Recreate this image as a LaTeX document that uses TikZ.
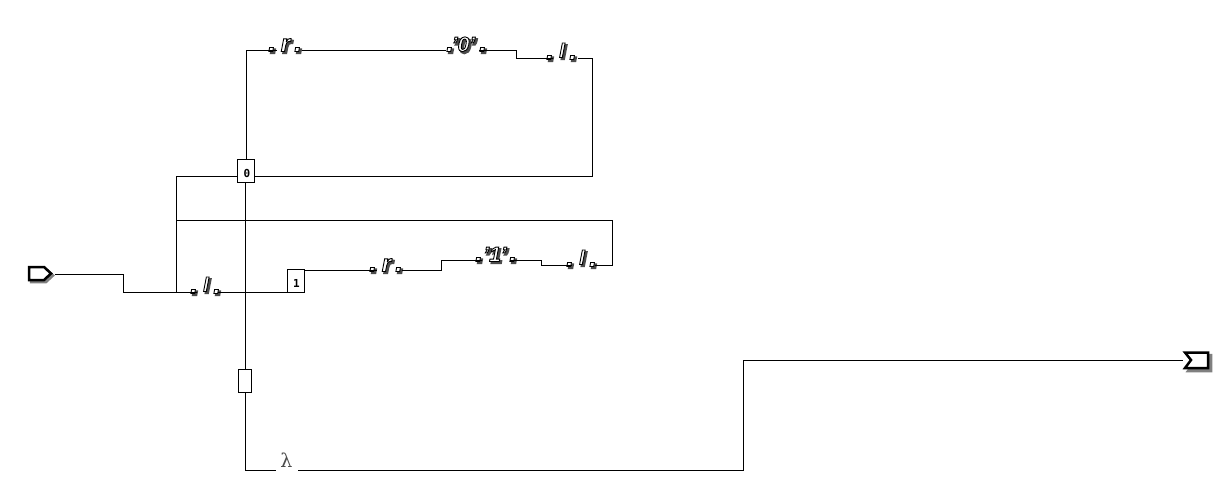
\documentclass[tikz,border=0pt]{standalone}
\usepackage{fontspec}
\setmainfont{Liberation Sans}
\newfontfamily\monob{DejaVu Sans Mono}
\newfontfamily\lamfont{DejaVu Serif}
\usetikzlibrary{calc}
\newcommand\ot[1]{\rlap{\hspace*{1.8pt}\raisebox{-1.8pt}{\special{pdf:code q 2 Tr 1.6 w 0.3 0.3 0.3 RG 0.3 0.3 0.3 rg}#1\special{pdf:code Q}}}%
\special{pdf:code q 2 Tr 0.9 w 0 0 0 RG 1 1 1 rg}#1\special{pdf:code Q}}
\newcommand\place[2]{\rlap{\hspace*{#1pt}\makebox[0pt]{#2}}}
\newcommand\dotf{\fontsize{27}{27}\selectfont}
\newcommand\rf{\fontsize{24}{24}\selectfont}
\newcommand\qf{\fontsize{21}{21}\selectfont}
\newcommand\lf[1]{\raisebox{2pt}{\fontsize{20}{20}\selectfont #1}}
\newcommand\lbl[5]{\makebox[#1pt]{\rlap{\hspace*{\dimexpr 0.5\dimexpr #1pt\relax\relax}\place{#2}{\ot{\dotf.}}\place{#3}{\ot{#5}}\place{#4}{\ot{\dotf.}}}\hfill}}
\tikzset{
  wire/.style={draw=black,line width=1pt},
  lab/.style={inner sep=0pt,outer sep=0pt,font=\fontsize{18}{18}\selectfont\bfseries\itshape,text height=3pt,text depth=0pt,anchor=center},
  box/.style={draw=black,line width=1pt,fill=white,inner sep=0pt,outer sep=0pt,minimum width=#1},
  digit/.style={inner sep=0pt,font=\monob\bfseries\fontsize{11}{11}\selectfont},
  port/.style={draw=black,line width=2.5pt,fill=white,line join=miter},
  portshade/.style={fill=black!50,draw=black!50,line width=2.5pt},
}
\begin{document}
\begin{tikzpicture}[x=1pt,y=-1pt]
\useasboundingbox[fill=white] (0,0) rectangle (1217,480);
\coordinate (inp) at (55,274);
\coordinate (outp) at (1183,360);
\node[box=17pt,minimum height=23pt] (b0) at (245.5,170.5) {};
\node[digit,yshift=-3pt,xshift=1.5pt] (d0) at (b0) {0};
\node[box=17pt,minimum height=23pt] (b1) at (296,280.5) {};
\node[digit,yshift=-3pt,xshift=0.5pt] (d1) at (b1) {1};
\node[box=13pt,minimum height=23pt] (b2) at (245,380.5) {};
\node[lab] (r1) at (289.5,50) {\lbl{25}{-17.5}{-4}{8.5}{\rf r}};
\node[lab] (q0) at (462.5,50) {\lbl{33}{-12.5}{1}{20.5}{\qf '0'}};
\node[lab] (e1) at (565.5,58) {\lbl{25}{-15.5}{-3.5}{7.5}{\lf{l}}};
\node[lab] (e0) at (207.5,292) {\lbl{21}{-13.5}{-1.5}{9.5}{\lf{l}}};
\node[lab] (r2) at (389.5,270) {\lbl{25}{-16.5}{-3}{9.5}{\rf r}};
\node[lab] (q1) at (496,260) {\lbl{28}{-17}{-1}{17}{\qf '1'}};
\node[lab] (e2) at (583.5,265) {\lbl{23}{-13.5}{-1.5}{9.5}{\lf{l}}};
\node[inner sep=0pt,minimum width=22pt,minimum height=22pt] (lam) at (287,470) {};
\node[inner sep=0pt,text=black!70,font=\lamfont\fontsize{19}{19}\selectfont] (lamt) at (286.5,460) {λ};
\draw[wire] (inp) -- (123.5,274) -- (123.5,292) -- (e0.west);
\draw[wire] (e0.east) -- (b1.south west);
\draw[wire] (176,292) -- (176,176) -- (b0.west |- 176,176);
\draw[wire] (b0.east |- 176,176) -- (592,176) -- (592,58) -- (e1.east);
\draw[wire] (e1.west) -- (516,58) -- (516,50) -- (q0.east);
\draw[wire] (q0.west) -- (r1.east);
\draw[wire] (r1.west) -- (246.5,50) -- (b0.north -| 246.5,0);
\draw[wire] (b1.east |- 0,270) -- (r2.west);
\draw[wire] (r2.east) -- (441,270) -- (441,260) -- (q1.west);
\draw[wire] (q1.east) -- (541,260) -- (541,265) -- (e2.west);
\draw[wire] (e2.east) -- (612,265) -- (612,220) -- (176,220);
\draw[wire] (b0.south -| 245.5,0) -- (b2.north -| 245.5,0);
\draw[wire] (b2.south -| 245.5,0) -- (245.5,470) -- (lam.west);
\draw[wire] (lam.east) -- (743,470) -- (743,360) -- (outp);
\path[portshade] (31,269) -- (46,269) -- (53,275.5) -- (46,282) -- (31,282) -- cycle;
\path[port] (29,267) -- (44,267) -- (51,273.5) -- (44,280) -- (29,280) -- cycle;
\path[portshade] (1188,355) -- (1211,355) -- (1211,371) -- (1188,371) -- (1194,363) -- cycle;
\path[port] (1185,352.5) -- (1208,352.5) -- (1208,368) -- (1185,368) -- (1191,360) -- cycle;
\end{tikzpicture}
\end{document}
